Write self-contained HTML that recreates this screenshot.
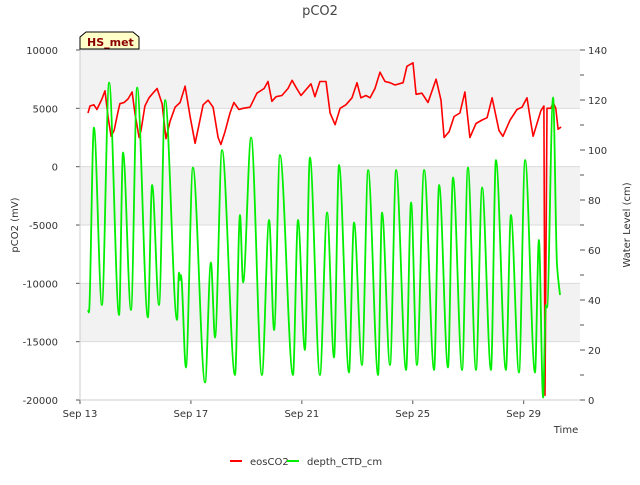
<!DOCTYPE html>
<html><head><meta charset="utf-8"><style>
body{margin:0;background:#fff;font-family:"Liberation Sans","DejaVu Sans",sans-serif}
svg text{font-family:"DejaVu Sans","Liberation Sans",sans-serif}
</style></head><body>
<svg id="chart" width="640" height="480">
<rect width="640" height="480" fill="#fff"/>
<text x="320" y="15" text-anchor="middle" font-size="13" fill="#444">pCO2</text>
<g id="bands"></g>
<g id="axes"></g>
<g id="series"></g>
<g>
<path d="M80,49 L80,37 L86,32 L133,32 L139,37 L139,49 Z" fill="#ffffc8" stroke="#000" stroke-width="1"/>
<text x="87" y="46" font-size="11" font-weight="bold" fill="#8b0000">HS_met</text>
</g>
<g>
<line x1="230" y1="461" x2="242" y2="461" stroke="#ff0000" stroke-width="2"/>
<text x="250" y="465" font-size="10" fill="#333">eosCO2</text>
<line x1="287" y1="461" x2="299" y2="461" stroke="#00ee00" stroke-width="2"/>
<text x="307" y="465" font-size="10" fill="#333">depth_CTD_cm</text>
</g>
</svg>
<script>
const leftTicks=[10000,5000,0,-5000,-10000,-15000,-20000];
const rightTicks=[0,20,40,60,80,100,120,140];
const xTickDays=[0,4,8,12,16];
const xTickLabels=["Sep 13","Sep 17","Sep 21","Sep 25","Sep 29"];
const redDays=[0.29,0.36,0.50,0.61,0.79,0.90,1.01,1.12,1.23,1.37,1.44,1.59,1.73,1.88,1.98,2.13,2.20,2.34,2.49,2.63,2.78,2.96,3.10,3.25,3.43,3.61,3.79,3.97,4.15,4.29,4.44,4.62,4.80,4.98,5.08,5.23,5.41,5.55,5.73,5.88,6.13,6.38,6.64,6.78,6.92,7.07,7.28,7.50,7.65,7.79,7.97,8.33,8.47,8.65,8.87,9.02,9.20,9.38,9.59,9.81,9.99,10.13,10.31,10.46,10.64,10.82,11.00,11.18,11.36,11.65,11.79,12.01,12.12,12.33,12.55,12.84,13.02,13.13,13.31,13.49,13.70,13.88,14.06,14.28,14.50,14.68,14.86,15.11,15.25,15.51,15.76,15.94,16.12,16.23,16.34,16.48,16.62,16.73,16.77,16.84,16.98,17.06,17.16,17.24,17.35];
const redValues=[4600,5200,5300,4900,5800,6500,4300,2600,3100,4700,5400,5500,5800,6400,4600,2500,3100,5200,5900,6300,6700,5400,2400,3900,5100,5500,6900,4300,2000,3600,5300,5700,5100,2500,1900,3000,4600,5500,4900,5000,5100,6300,6700,7300,5600,6000,6100,6700,7400,6800,6100,7100,6000,7300,7300,4600,3600,5000,5300,5900,7200,5900,6100,5900,6700,8100,7300,7200,7000,7200,8600,8900,6200,6300,5500,7500,5700,2500,3000,4300,4600,6400,2500,3700,4000,4200,5900,3100,2600,4000,4900,5100,5900,4200,2600,3700,4800,5200,-19600,5000,5000,5500,5000,3200,3400];
const greenDays=[0.29,0.32,0.50,0.79,1.05,1.41,1.55,1.84,2.06,2.45,2.60,2.85,3.07,3.50,3.57,3.61,3.64,3.82,4.07,4.51,4.72,4.87,5.12,5.59,5.77,5.88,6.17,6.56,6.82,7.00,7.21,7.68,7.86,8.11,8.29,8.65,8.91,9.16,9.34,9.70,9.88,10.17,10.39,10.75,10.89,11.18,11.40,11.76,11.94,12.15,12.41,12.77,12.95,13.27,13.45,13.78,13.99,14.28,14.50,14.82,15.00,15.36,15.54,15.83,16.05,16.41,16.55,16.70,16.80,16.84,17.06,17.20,17.31];
const greenValues=[36,35,109,38,127,34,99,36,125,33,86,38,120,32,51,48,50,13,93,7,55,25,100,10,74,47,105,10,72,28,98,10,72,20,97,10,75,17,94,11,71,14,92,10,75,14,92,12,79,14,92,12,86,13,89,12,93,12,85,12,96,12,74,11,96,11,64,1,38,37,121,54,42];

const NS="http://www.w3.org/2000/svg";
const X0=80,X1=580,Y0=50,Y1=400,PXD=27.73;
const xs=d=>X0+d*PXD;
const yL=v=>Y0+(10000-v)/30000*(Y1-Y0);
const yR=c=>Y1-c/140*(Y1-Y0);
function mk(tag,attrs,parent){const e=document.createElementNS(NS,tag);for(const k in attrs)e.setAttribute(k,attrs[k]);parent.appendChild(e);return e;}
function monoPath(px,py){
 const n=px.length,dx=[],m=[],t=[];
 for(let i=0;i<n-1;i++){dx[i]=px[i+1]-px[i];m[i]=(py[i+1]-py[i])/(dx[i]||1e-6);}
 t[0]=m[0];t[n-1]=m[n-2];
 for(let i=1;i<n-1;i++){t[i]=(m[i-1]*m[i]<=0)?0:(dx[i-1]+dx[i])/( (dx[i-1]+2*dx[i])/m[i-1]*1/3*3/ (1) /3 + 0 ) ;
  const w1=2*dx[i]+dx[i-1],w2=dx[i]+2*dx[i-1];
  if(m[i-1]*m[i]>0) t[i]=(w1+w2)/(w1/m[i-1]+w2/m[i]);}
 let d='M'+px[0].toFixed(1)+','+py[0].toFixed(1);
 for(let i=0;i<n-1;i++){const h=dx[i]/3;
  d+=' C'+(px[i]+h).toFixed(1)+','+(py[i]+t[i]*h).toFixed(1)+' '+(px[i+1]-h).toFixed(1)+','+(py[i+1]-t[i+1]*h).toFixed(1)+' '+px[i+1].toFixed(1)+','+py[i+1].toFixed(1);}
 return d;
}
const bands=document.getElementById('bands'),axes=document.getElementById('axes'),series=document.getElementById('series');
mk('rect',{x:X0,y:Y0,width:X1-X0,height:Y1-Y0,fill:'#fff'},bands);
[[10000,5000],[0,-5000],[-10000,-15000]].forEach(b=>{
 const r=mk('rect',{x:X0,y:yL(b[0]),width:X1-X0,height:yL(b[1])-yL(b[0]),fill:'#f2f2f2'},bands);
 
 
});
leftTicks.forEach(v=>{
 mk('line',{x1:X0,x2:X1,y1:yL(v),y2:yL(v),stroke:'#dcdcdc','stroke-width':1},bands);
 mk('line',{x1:X0-4,x2:X0,y1:yL(v),y2:yL(v),stroke:'#555'},axes);
 const t=mk('text',{x:X0-22,y:yL(v)+4,'text-anchor':'end','font-size':10,fill:'#333'},axes);
 t.textContent=v;
 
 
});
for(let c=0;c<=140;c+=10){mk('line',{x1:X1,x2:X1+(c%20?4:5),y1:yR(c),y2:yR(c),stroke:'#555'},axes);}
rightTicks.forEach(c=>{
 const t=mk('text',{x:X1+8,y:yR(c)+4,'font-size':10,fill:'#333'},axes);
 t.textContent=c;
 
 
});
xTickDays.forEach((d,i)=>{
 mk('line',{x1:xs(d),x2:xs(d),y1:Y1,y2:Y1+4,stroke:'#555'},axes);
 const t=mk('text',{x:xs(d),y:Y1+17,'text-anchor':'middle','font-size':10,fill:'#333'},axes);
 t.textContent=xTickLabels[i];
 
 
});
mk('line',{x1:X0,x2:X0,y1:Y0,y2:Y1,stroke:'#ccc'},axes);
mk('line',{x1:X0,x2:X1,y1:Y1,y2:Y1,stroke:'#ccc'},axes);
let t=mk('text',{x:566,y:433,'text-anchor':'middle','font-size':10,fill:'#333'},axes);t.textContent='Time';


t=mk('text',{x:0,y:0,'text-anchor':'middle','font-size':10,fill:'#333',transform:'translate(18,225) rotate(-90)'},axes);t.textContent='pCO2 (mV)';


t=mk('text',{x:0,y:0,'text-anchor':'middle','font-size':10,fill:'#333',transform:'translate(630,225) rotate(-90)'},axes);t.textContent='Water Level (cm)';


const rp=mk('polyline',{points:redDays.map((d,i)=>xs(d).toFixed(1)+','+yL(redValues[i]).toFixed(1)).join(' '),fill:'none',stroke:'#ff0000','stroke-width':1.6,'stroke-linejoin':'round'},series);


const gp=mk('path',{d:monoPath(greenDays.map(xs),greenValues.map(yR)),fill:'none',stroke:'#00ee00','stroke-width':1.8,'stroke-linejoin':'round'},series);


</script>
</body></html>
